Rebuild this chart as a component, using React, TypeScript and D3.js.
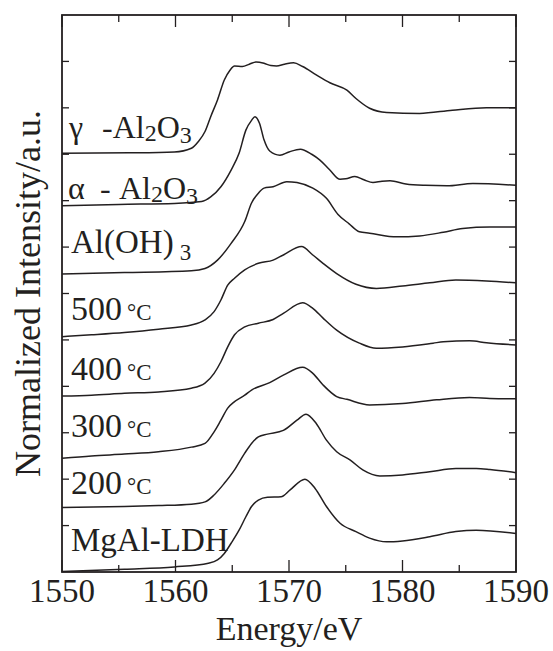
import React from 'react';
import * as d3 from 'd3';

// ---- data (energy in eV, normalized intensity incl. vertical offset) ----
const gammaE = [1550, 1556, 1559.9, 1561.4, 1562.0, 1562.6, 1563.1, 1563.7, 1564.3, 1564.8, 1565.2, 1565.9, 1566.5, 1567.1, 1567.8, 1568.4, 1568.9, 1569.6, 1570.4, 1571.2, 1572.4, 1573.6, 1575.1, 1575.9, 1577.1, 1578.6, 1581.5, 1584.4, 1587.4, 1590];
const gammaI = [9.02, 9.03, 9.05, 9.13, 9.27, 9.49, 9.81, 10.17, 10.6, 10.81, 10.9, 10.89, 10.94, 10.99, 10.96, 10.91, 10.9, 10.94, 10.97, 10.89, 10.71, 10.54, 10.38, 10.2, 9.99, 9.9, 9.88, 9.95, 10.0, 10.0];

const alphaE = [1550, 1555, 1559.9, 1562.3, 1563.1, 1564.0, 1564.9, 1565.6, 1566.2, 1566.7, 1567.0, 1567.4, 1567.8, 1568.3, 1569.2, 1570.0, 1571.0, 1572.0, 1572.7, 1573.6, 1574.5, 1575.0, 1575.8, 1576.6, 1577.4, 1578.2, 1578.9, 1580.3, 1582.0, 1583.9, 1586.2, 1590];
const alphaI = [7.89, 7.92, 7.94, 7.98, 8.08, 8.30, 8.66, 9.02, 9.52, 9.73, 9.81, 9.67, 9.31, 9.07, 8.98, 9.05, 9.11, 9.0, 8.88, 8.66, 8.46, 8.47, 8.52, 8.45, 8.39, 8.42, 8.43, 8.36, 8.33, 8.32, 8.37, 8.33];

const alohE = [1550, 1555.5, 1561.4, 1562.6, 1563.7, 1564.9, 1566.1, 1566.7, 1567.3, 1567.8, 1568.6, 1569.8, 1570.7, 1572.1, 1573.3, 1574.3, 1575.3, 1576.2, 1577.1, 1579.5, 1581.5, 1583.6, 1585.3, 1587.7, 1590];
const alohI = [6.42, 6.45, 6.49, 6.54, 6.72, 7.08, 7.55, 7.95, 8.16, 8.27, 8.30, 8.41, 8.39, 8.27, 8.05, 7.71, 7.50, 7.33, 7.30, 7.22, 7.24, 7.32, 7.40, 7.43, 7.43];

const c500E = [1550, 1552.6, 1555.5, 1558.5, 1561.4, 1562.6, 1563.4, 1564.0, 1564.6, 1565.2, 1566.1, 1567.3, 1568.6, 1569.5, 1571.1, 1572.1, 1573.0, 1574.2, 1575.9, 1577.7, 1580.0, 1582.4, 1584.7, 1587.4, 1590];
const c500I = [5.07, 5.11, 5.16, 5.23, 5.32, 5.43, 5.61, 5.86, 6.18, 6.33, 6.51, 6.65, 6.72, 6.83, 7.01, 6.83, 6.65, 6.43, 6.20, 6.11, 6.16, 6.23, 6.29, 6.27, 6.23];

const c400E = [1550, 1552.6, 1555.5, 1558.5, 1561.4, 1562.6, 1563.4, 1564.0, 1564.6, 1565.2, 1566.1, 1567.3, 1568.6, 1569.5, 1571.2, 1572.1, 1573.0, 1574.2, 1576.2, 1577.7, 1580.0, 1582.7, 1583.6, 1585.9, 1587.4, 1590];
const c400I = [3.79, 3.81, 3.85, 3.88, 3.96, 4.07, 4.28, 4.53, 4.85, 5.11, 5.28, 5.36, 5.44, 5.57, 5.80, 5.68, 5.47, 5.21, 4.93, 4.82, 4.85, 4.93, 4.96, 4.98, 4.94, 4.89];

const c300E = [1550, 1552.6, 1555.5, 1558.5, 1561.4, 1562.6, 1563.4, 1564.0, 1564.6, 1565.2, 1566.1, 1566.7, 1568.3, 1569.5, 1571.2, 1572.1, 1573.0, 1574.2, 1575.1, 1577.1, 1580.0, 1583.0, 1585.9, 1587.7, 1590];
const c300I = [2.45, 2.50, 2.54, 2.59, 2.69, 2.77, 3.02, 3.27, 3.53, 3.67, 3.81, 3.92, 4.08, 4.24, 4.41, 4.28, 4.03, 3.78, 3.72, 3.60, 3.63, 3.71, 3.76, 3.74, 3.73];

const c200E = [1550, 1555.5, 1558.5, 1561.4, 1562.6, 1563.4, 1564.3, 1565.2, 1566.1, 1566.7, 1567.3, 1568.1, 1569.5, 1570.7, 1571.5, 1572.4, 1573.3, 1574.2, 1575.4, 1576.5, 1578.0, 1580.0, 1582.4, 1584.7, 1586.5, 1587.7, 1590];
const c200I = [1.39, 1.41, 1.43, 1.46, 1.51, 1.66, 1.91, 2.20, 2.56, 2.77, 2.91, 2.97, 3.05, 3.27, 3.40, 3.20, 2.84, 2.59, 2.41, 2.20, 2.07, 2.09, 2.16, 2.23, 2.23, 2.21, 2.14];

const ldhE = [1550, 1555.5, 1559.9, 1562.9, 1563.7, 1564.3, 1564.9, 1565.6, 1566.2, 1566.7, 1567.3, 1568.1, 1569.3, 1570.1, 1571.4, 1572.3, 1573.3, 1574.5, 1575.9, 1577.1, 1578.6, 1580.0, 1582.4, 1584.7, 1586.5, 1590];
const ldhI = [0.01, 0.06, 0.11, 0.19, 0.26, 0.40, 0.62, 0.90, 1.19, 1.41, 1.55, 1.61, 1.62, 1.77, 2.00, 1.80, 1.41, 1.05, 0.87, 0.73, 0.65, 0.67, 0.76, 0.87, 0.90, 0.83];

const xMajorTicks = [1550, 1560, 1570, 1580, 1590];
const xMinorTicks = [1555, 1565, 1575, 1585];
const yTicks = [1, 2, 3, 4, 5, 6, 7, 8, 9, 10, 11];

const seriesList = [
  { E: gammaE, I: gammaI },
  { E: alphaE, I: alphaI },
  { E: alohE, I: alohI },
  { E: c500E, I: c500I },
  { E: c400E, I: c400I },
  { E: c300E, I: c300I },
  { E: c200E, I: c200I },
  { E: ldhE, I: ldhI },
];

const W = 553;
const H = 651;
const X0 = 62, X1 = 516, Y0 = 572, Y1 = 15;
const INK = '#231f20';
const FONT = '"Liberation Serif", "DejaVu Serif", serif';

export default function App() {
  const x = d3.scaleLinear().domain([1550, 1590]).range([X0, X1]);
  const y = d3.scaleLinear().domain([0, 12]).range([Y0, Y1]);
  const line = d3
    .line<[number, number]>()
    .x((d) => x(d[0]))
    .y((d) => y(d[1]))
    .curve(d3.curveMonotoneX);

  const tempLabel = (t: string, baseY: number) => (
    <text x={71} y={baseY} fontSize={34} fill={INK}>
      {t}
      <tspan fontSize={23} dx={5}>°C</tspan>
    </text>
  );

  return (
    <svg
      width={W}
      height={H}
      viewBox={`0 0 ${W} ${H}`}
      style={{ position: 'absolute', left: 0, top: 0, background: '#fff', fontFamily: FONT }}
    >
      <rect x={0} y={0} width={W} height={H} fill="#fff" />
      {/* curves */}
      {seriesList.map((s, i) => (
        <path
          key={i}
          d={line(s.E.map((e, j) => [e, s.I[j]] as [number, number])) || ''}
          fill="none"
          stroke={INK}
          strokeWidth={1.5}
          strokeLinejoin="round"
        />
      ))}
      {/* frame */}
      <rect x={X0} y={Y1} width={X1 - X0} height={Y0 - Y1} fill="none" stroke={INK} strokeWidth={1.8} />
      {/* x ticks */}
      {xMajorTicks.map((t) => (
        <g key={'M' + t}>
          <line x1={x(t)} x2={x(t)} y1={Y0} y2={Y0 - 12} stroke={INK} strokeWidth={1.3} />
          <line x1={x(t)} x2={x(t)} y1={Y1} y2={Y1 + 12} stroke={INK} strokeWidth={1.3} />
          <text x={x(t)} y={602} textAnchor="middle" fontSize={33} fill={INK}>
            {t}
          </text>
        </g>
      ))}
      {xMinorTicks.map((t) => (
        <g key={'m' + t}>
          <line x1={x(t)} x2={x(t)} y1={Y0} y2={Y0 - 7} stroke={INK} strokeWidth={1.3} />
          <line x1={x(t)} x2={x(t)} y1={Y1} y2={Y1 + 7} stroke={INK} strokeWidth={1.3} />
        </g>
      ))}
      {/* y ticks */}
      {yTicks.map((t) => (
        <g key={'y' + t}>
          <line x1={X0} x2={X0 + 7} y1={y(t)} y2={y(t)} stroke={INK} strokeWidth={1.3} />
          <line x1={X1} x2={X1 - 7} y1={y(t)} y2={y(t)} stroke={INK} strokeWidth={1.3} />
        </g>
      ))}
      {/* axis titles */}
      <text x={289} y={640} textAnchor="middle" fontSize={34} fill={INK}>
        Energy/eV
      </text>
      <text
        transform={`translate(40, ${(Y0 + Y1) / 2}) rotate(-90)`}
        textAnchor="middle"
        fontSize={36}
        fill={INK}
      >
        Normalized Intensity/a.u.
      </text>
      {/* curve labels */}
      <text y={138} fontSize={32} fill={INK}>
        <tspan x={69}>γ</tspan>
        <tspan x={102}>-Al</tspan>
        <tspan fontSize={24} dy={3}>2</tspan>
        <tspan dy={-3}>O</tspan>
        <tspan fontSize={24} dy={5}>3</tspan>
      </text>
      <text y={199} fontSize={32} fill={INK}>
        <tspan x={68}>α</tspan>
        <tspan x={100}>-</tspan>
        <tspan x={119}>Al</tspan>
        <tspan fontSize={24} dy={3}>2</tspan>
        <tspan dy={-3}>O</tspan>
        <tspan fontSize={24} dy={5}>3</tspan>
      </text>
      <text x={71} y={253} fontSize={33} fill={INK}>
        Al(OH)
        <tspan fontSize={23} dx={6} dy={7}>3</tspan>
      </text>
      {tempLabel('500', 320)}
      {tempLabel('400', 380)}
      {tempLabel('300', 437)}
      {tempLabel('200', 494)}
      <text x={71} y={551} fontSize={33} fill={INK}>
        MgAl-LDH
      </text>
    </svg>
  );
}
